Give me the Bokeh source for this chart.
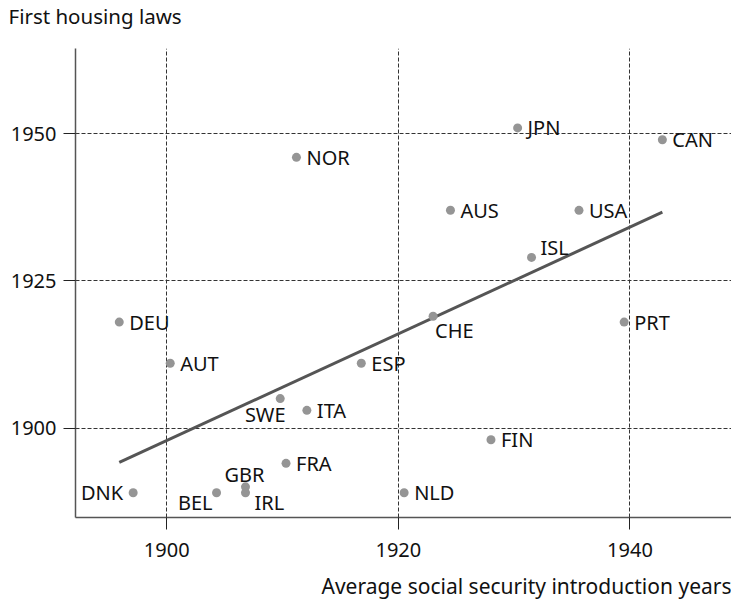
import numpy as np
from bokeh.plotting import figure
from bokeh.models import ColumnDataSource, Range1d, FixedTicker, Title
from bokeh.core.properties import value
from bokeh.embed import file_html
from bokeh.resources import INLINE

# ---- data ----
countries = ["DNK", "BEL", "IRL", "GBR", "FRA", "NLD", "SWE", "ITA", "ESP", "AUT",
             "DEU", "CHE", "FIN", "PRT", "ISL", "AUS", "USA", "NOR", "JPN", "CAN"]
social_security_year = [1897.1, 1904.3, 1906.8, 1906.8, 1910.3, 1920.5, 1909.8, 1912.1, 1916.8, 1900.3,
                        1895.9, 1923.0, 1928.0, 1939.5, 1931.5, 1924.5, 1935.6, 1911.2, 1930.3, 1942.8]
housing_law_year = [1889, 1889, 1889, 1890, 1894, 1889, 1905, 1903, 1911, 1911,
                    1918, 1919, 1898, 1918, 1929, 1937, 1937, 1946, 1951, 1949]
x_ticks = [1900, 1920, 1940]
y_ticks = [1900, 1925, 1950]
y_title = "First housing laws"
x_title = "Average social security introduction years"

# ---- label placement (style, not data) ----
default_place = ("left", "middle", 10, 0)
special_place = {
    "DNK": ("right", "middle", -10, 0),
    "BEL": ("right", "middle", -4, 10),
    "IRL": ("left", "middle", 9, 10),
    "GBR": ("center", "middle", -1, -12),
    "SWE": ("center", "middle", -15, 16),
    "CHE": ("left", "middle", 2, 14),
    "ISL": ("left", "middle", 9, -10),
}
places = [special_place.get(c, default_place) for c in countries]

FONT = "Noto Sans"

src = ColumnDataSource(dict(
    x=social_security_year, y=housing_law_year, name=countries,
    align=[p[0] for p in places], base=[p[1] for p in places],
    xo=[p[2] for p in places], yo=[p[3] for p in places],
))

# least-squares fit line over the data extent
xs = np.array(social_security_year)
ys = np.array(housing_law_year, dtype=float)
slope, intercept = np.polyfit(xs, ys, 1)
fit_x = [xs.min(), xs.max()]
fit_y = [slope * v + intercept for v in fit_x]

p = figure(frame_width=656, frame_height=469, output_backend="svg", toolbar_location=None,
           x_range=Range1d(1892.12, 1948.77), y_range=Range1d(1884.79, 1964.5),
           min_border_left=75, min_border_right=0, min_border_top=48, min_border_bottom=82)
p.outline_line_color = None
p.background_fill_color = "white"
p.border_fill_color = "white"

# axes
for ax in (p.xaxis[0], p.yaxis[0]):
    ax.axis_line_color = "#555555"
    ax.axis_line_width = 1.5
    ax.major_tick_line_color = "#222222"
    ax.major_tick_line_width = 1
    ax.major_tick_out = 12
    ax.major_tick_in = 0
    ax.minor_tick_line_color = None
    ax.major_label_text_font = FONT
    ax.major_label_text_font_size = "20px"
    ax.major_label_text_color = "#111111"
p.xaxis[0].ticker = FixedTicker(ticks=x_ticks)
p.yaxis[0].ticker = FixedTicker(ticks=y_ticks)
p.xaxis[0].major_label_standoff = 13
p.yaxis[0].major_label_standoff = 7

# grid
for g in (p.xgrid[0], p.ygrid[0]):
    g.grid_line_color = "#333333"
    g.grid_line_dash = "4 2"
    g.grid_line_width = 1
p.xgrid[0].ticker = FixedTicker(ticks=x_ticks)
p.ygrid[0].ticker = FixedTicker(ticks=y_ticks)

# titles (trailing empty line gives the title panel the height of the top margin,
# so the text can sit at the top of the page while the frame starts lower)
p.title.text = y_title + "\n"
p.title.align = "left"
p.title.vertical_align = "top"
p.title.offset = -67
p.title.standoff = 3
p.title.text_line_height = 0.54
p.title.text_font = FONT
p.title.text_font_size = "20.5px"
p.title.text_font_style = "normal"
p.title.text_color = "#111111"

xt = Title(text=x_title, align="right",
           text_font=FONT, text_font_size="21px", text_font_style="normal",
           text_color="#111111", standoff=20)
p.add_layout(xt, "below")

# marks
p.line(fit_x, fit_y, line_color="#555555", line_width=3)
p.scatter("x", "y", source=src, size=9, fill_color="#959595", line_color=None)
p.text("x", "y", text="name", source=src, text_align="align", text_baseline="base",
       x_offset="xo", y_offset="yo", text_font=value(FONT), text_font_size="20px",
       text_color="#111111")

open("out.html", "w").write(file_html(p, INLINE))
